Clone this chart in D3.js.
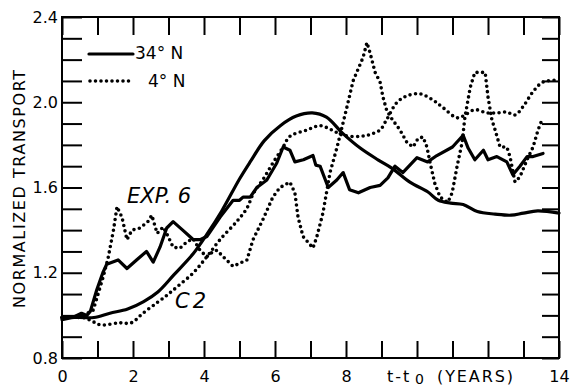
<!DOCTYPE html>
<html>
<head>
<meta charset="utf-8">
<script src="https://cdn.jsdelivr.net/npm/d3@7"></script>
<style>
  body { margin: 0; background: #fff; }
  svg { display: block; }
  text { font-family: "DejaVu Sans", sans-serif; fill: #000; }
</style>
</head>
<body>
<div id="chart"></div>
<script>
'use strict';

// t - t0 (years), normalized transport
const c2N34 = [[0,0.99],[0.5,0.99],[0.9,0.99],[1.35,1.01],[1.85,1.03],[2.3,1.065],[2.7,1.11],[3.15,1.19],[3.7,1.29],[4.08,1.38],[4.5,1.49],[5.0,1.64],[5.3,1.72],[5.7,1.82],[6.15,1.89],[6.6,1.935],[7.05,1.95],[7.45,1.93],[7.9,1.855],[8.4,1.785],[8.9,1.73],[9.3,1.69],[9.8,1.625],[10.3,1.58],[10.6,1.54],[10.95,1.527],[11.3,1.52],[11.7,1.487],[12.2,1.475],[12.65,1.47],[13.0,1.48],[13.4,1.49],[14,1.48]];

const c2N4 = [[0,0.99],[0.6,0.99],[0.88,0.97],[1.1,0.955],[1.6,0.965],[1.95,0.965],[2.28,1.01],[2.68,1.06],[2.96,1.095],[3.25,1.135],[3.7,1.2],[4.08,1.275],[4.45,1.355],[4.92,1.44],[5.2,1.5],[5.4,1.575],[5.67,1.64],[5.94,1.715],[6.23,1.79],[6.42,1.84],[6.9,1.87],[7.27,1.89],[7.6,1.87],[7.92,1.845],[8.4,1.84],[8.7,1.85],[8.96,1.87],[9.15,1.92],[9.44,2.0],[9.72,2.03],[10.08,2.04],[10.45,2.01],[10.73,1.975],[11.13,1.927],[11.35,1.94],[11.63,1.965],[11.97,1.95],[12.25,1.95],[12.53,1.954],[12.76,1.94],[12.99,1.98],[13.27,2.05],[13.55,2.095],[13.94,2.105],[14,2.11]];

const exp6N34 = [[0,0.98],[0.3,0.99],[0.55,1.01],[0.7,1.0],[0.8,1.02],[0.98,1.12],[1.15,1.2],[1.26,1.24],[1.58,1.26],[1.83,1.22],[2.1,1.26],[2.38,1.3],[2.57,1.25],[2.76,1.32],[2.95,1.41],[3.13,1.44],[3.4,1.4],[3.6,1.37],[3.7,1.355],[3.89,1.355],[4.08,1.37],[4.45,1.46],[4.82,1.54],[5.0,1.54],[5.1,1.555],[5.3,1.555],[5.49,1.6],[5.77,1.635],[6.05,1.715],[6.23,1.79],[6.42,1.775],[6.56,1.72],[6.8,1.73],[7.07,1.75],[7.15,1.705],[7.27,1.7],[7.5,1.6],[7.74,1.635],[7.92,1.67],[8.1,1.59],[8.35,1.575],[8.68,1.6],[8.96,1.61],[9.18,1.645],[9.38,1.7],[9.6,1.67],[10.0,1.74],[10.3,1.72],[10.56,1.75],[11.0,1.79],[11.3,1.845],[11.44,1.785],[11.63,1.73],[11.87,1.775],[12.0,1.73],[12.25,1.745],[12.53,1.72],[12.7,1.66],[12.9,1.7],[13.1,1.745],[13.27,1.745],[13.55,1.76]];

const exp6N4 = [[0,0.99],[0.5,0.99],[0.88,1.025],[1.16,1.18],[1.3,1.27],[1.45,1.4],[1.55,1.51],[1.69,1.46],[1.83,1.355],[1.97,1.4],[2.2,1.41],[2.42,1.44],[2.53,1.47],[2.68,1.385],[2.85,1.415],[2.96,1.38],[3.13,1.32],[3.32,1.315],[3.52,1.345],[3.69,1.36],[3.89,1.305],[4.08,1.275],[4.26,1.3],[4.37,1.305],[4.54,1.275],[4.82,1.23],[5.21,1.26],[5.38,1.355],[5.66,1.45],[5.94,1.555],[6.14,1.6],[6.42,1.625],[6.56,1.575],[6.65,1.46],[6.79,1.37],[7.07,1.316],[7.18,1.37],[7.35,1.48],[7.55,1.67],[7.75,1.79],[8.03,1.98],[8.2,2.1],[8.48,2.21],[8.59,2.28],[8.68,2.23],[8.82,2.14],[8.96,2.095],[9.04,2.025],[9.15,1.96],[9.3,1.92],[9.52,1.87],[9.72,1.81],[9.89,1.79],[10.03,1.83],[10.17,1.837],[10.28,1.79],[10.37,1.715],[10.5,1.62],[10.65,1.555],[10.87,1.53],[10.99,1.575],[11.13,1.7],[11.27,1.81],[11.35,1.93],[11.5,2.07],[11.63,2.14],[11.92,2.14],[12.0,2.025],[12.11,1.917],[12.2,1.87],[12.34,1.79],[12.53,1.79],[12.62,1.745],[12.76,1.626],[12.9,1.65],[13.1,1.73],[13.27,1.79],[13.41,1.87],[13.52,1.917]];

const xLabels = {0: "0", 2: "2", 4: "4", 6: "6", 8: "8", 14: "14"};
const yLabels = [0.8, 1.2, 1.6, 2.0, 2.4];

const width = 570, height = 386;
const margin = { top: 17, right: 11, bottom: 28, left: 62 };

const svg = d3.select("#chart").append("svg")
  .attr("width", width)
  .attr("height", height);

const x = d3.scaleLinear().domain([0, 14]).range([margin.left, width - margin.right]);
const y = d3.scaleLinear().domain([0.8, 2.4]).range([height - margin.bottom, margin.top]);

const xTicks = d3.range(0, 15, 1);
const yTicks = d3.range(8, 25, 1).map(d => d / 10);

// axes, ticks pointing inward
svg.append("g")
  .attr("transform", `translate(0,${y(0.8)})`)
  .call(d3.axisBottom(x).tickValues(xTicks).tickSize(-17).tickSizeOuter(0).tickPadding(13)
    .tickFormat(d => xLabels[d] || ""))
  .call(g => g.select(".domain").remove());

svg.append("g")
  .attr("transform", `translate(0,${y(2.4)})`)
  .call(d3.axisTop(x).tickValues(xTicks).tickSize(-18).tickSizeOuter(0).tickFormat(""))
  .call(g => g.select(".domain").remove());

svg.append("g")
  .attr("transform", `translate(${x(0)},0)`)
  .call(d3.axisLeft(y).tickValues(yTicks).tickSize(-20).tickSizeOuter(0).tickPadding(4)
    .tickFormat(d => yLabels.some(v => Math.abs(v - d) < 1e-6) ? d3.format(".1f")(d) : ""))
  .call(g => g.select(".domain").remove());

svg.append("g")
  .attr("transform", `translate(${x(14)},0)`)
  .call(d3.axisRight(y).tickValues(yTicks).tickSize(-17).tickSizeOuter(0).tickFormat(""))
  .call(g => g.select(".domain").remove());

svg.selectAll(".tick line").attr("stroke", "#000").attr("stroke-width", 2);
svg.selectAll(".tick text")
  .style("font-family", '"DejaVu Sans", sans-serif')
  .style("font-size", "16px")
  .attr("fill", "#000");

// frame
svg.append("rect")
  .attr("x", x(0)).attr("y", y(2.4))
  .attr("width", x(14) - x(0)).attr("height", y(0.8) - y(2.4))
  .attr("fill", "none").attr("stroke", "#000").attr("stroke-width", 2);

// curves
const jagged = d3.line().x(d => x(d[0])).y(d => y(d[1]));
const smooth = d3.line().x(d => x(d[0])).y(d => y(d[1])).curve(d3.curveCatmullRom.alpha(0.5));

function solid(path) {
  return path.attr("fill", "none").attr("stroke", "#000").attr("stroke-width", 3.2)
    .attr("stroke-linejoin", "round").attr("stroke-linecap", "round");
}
function dotted(path) {
  return path.attr("fill", "none").attr("stroke", "#000").attr("stroke-width", 3.6)
    .attr("stroke-dasharray", "0 5.5").attr("stroke-linecap", "round");
}

dotted(svg.append("path").datum(c2N4).attr("d", smooth));
dotted(svg.append("path").datum(exp6N4).attr("d", jagged));
solid(svg.append("path").datum(c2N34).attr("d", smooth));
solid(svg.append("path").datum(exp6N34).attr("d", jagged));

// legend
solid(svg.append("line").attr("x1", 89).attr("x2", 133).attr("y1", 54).attr("y2", 54));
dotted(svg.append("line").attr("x1", 90).attr("x2", 133).attr("y1", 81).attr("y2", 81));
svg.append("text").attr("x", 135).attr("y", 59).style("font-size", "17px").text("34° N");
svg.append("text").attr("x", 148).attr("y", 87).style("font-size", "17px").text("4° N");

// curve labels
svg.append("text").attr("x", 127).attr("y", 203)
  .style("font-size", "21px").style("font-style", "italic").text("EXP. 6");
svg.append("text").attr("x", 175).attr("y", 308)
  .style("font-size", "21px").style("font-style", "italic").style("letter-spacing", "3px").text("C2");

// axis titles
svg.append("text")
  .attr("transform", "translate(25,189) rotate(-90)")
  .attr("text-anchor", "middle")
  .attr("textLength", 238).attr("lengthAdjust", "spacing")
  .style("font-size", "16px")
  .text("NORMALIZED TRANSPORT");

svg.append("text").attr("x", 387).attr("y", 382).style("font-size", "16px")
  .style("letter-spacing", "2px").text("t-t");
svg.append("text").attr("x", 415).attr("y", 384).style("font-size", "14px").text("0");
svg.append("text").attr("x", 437).attr("y", 382).style("font-size", "16px")
  .attr("textLength", 76).attr("lengthAdjust", "spacing").text("(YEARS)");
</script>
</body>
</html>
